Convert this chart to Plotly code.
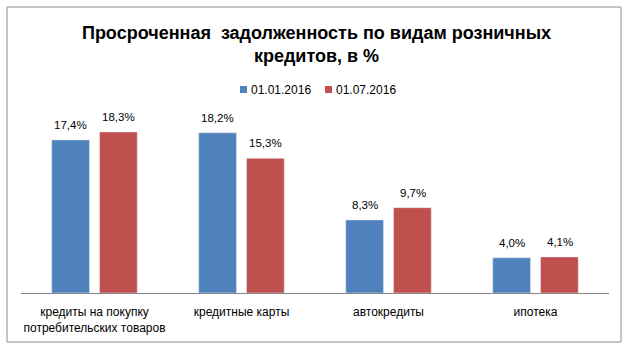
import plotly.graph_objects as go

categories = ["кредиты на покупку<br>потребительских товаров", "кредитные карты", "автокредиты", "ипотека"]
series_names = ["01.01.2016", "01.07.2016"]
values_jan = [17.4, 18.2, 8.3, 4.0]
values_jul = [18.3, 15.3, 9.7, 4.1]
colors = ["#4F81BD", "#C0504D"]
title_text = "<b>Просроченная  задолженность по видам розничных<br>кредитов, в %</b>"

W, H = 633, 351
L, R, T, B = 21, 24, 117, 58
pw = W - L - R
ph = H - T - B
FONT = "Liberation Sans"

def fmt(v):
    return f"{v:.1f}".replace(".", ",") + "%"

fig = go.Figure()
annotations = []
offsets = [-24, 24]
for name, vals, col, off in zip(series_names, [values_jan, values_jul], colors, offsets):
    fig.add_trace(go.Bar(x=categories, y=vals, name=name, marker_color=col,
                         showlegend=False, hoverinfo="x+y"))
    for c, v in zip(categories, vals):
        annotations.append(dict(x=c, y=v, xref="x", yref="y", text=fmt(v),
                                showarrow=False, xshift=off, yshift=7, yanchor="bottom",
                                font=dict(family=FONT, size=11.5, color="#000000")))

# manual legend (small square swatches like Excel)
legend_x = [240, 325]
for name, col, lx in zip(series_names, colors, legend_x):
    fig.add_shape(type="rect", xref="paper", yref="paper",
                  x0=(lx - L) / pw, x1=(lx + 7 - L) / pw,
                  y0=1 + (T - 93) / ph, y1=1 + (T - 86) / ph,
                  fillcolor=col, line=dict(width=0))
    annotations.append(dict(x=(lx + 9 - L) / pw, y=1 + (T - 89.5) / ph, xref="paper", yref="paper",
                            text=name, showarrow=False, xanchor="left", yanchor="middle",
                            font=dict(family=FONT, size=12, color="#000000")))

fig.update_layout(
    width=W, height=H,
    margin=dict(l=L, r=R, t=T, b=B),
    paper_bgcolor="white", plot_bgcolor="white",
    barmode="group", bargap=0.35, bargroupgap=0.21,
    title=dict(text=title_text, x=0.5, xanchor="center", y=1 - 39 / H, yanchor="top",
               font=dict(family=FONT, size=18, color="#000000")),
    showlegend=False,
    xaxis=dict(showline=True, linecolor="#868686", linewidth=1, ticks="",
               ticklabelstandoff=8,
               tickfont=dict(family=FONT, size=12, color="#000000")),
    yaxis=dict(range=[0, 20], visible=False, showgrid=False),
    annotations=annotations,
)
fig.add_shape(type="rect", xref="paper", yref="paper",
              x0=(7 - L) / pw, x1=(621 - L) / pw,
              y0=-(342 - (H - B)) / ph, y1=1 + (T - 7) / ph,
              line=dict(color="#8C8C8C", width=1))
fig.write_html("out.html")
